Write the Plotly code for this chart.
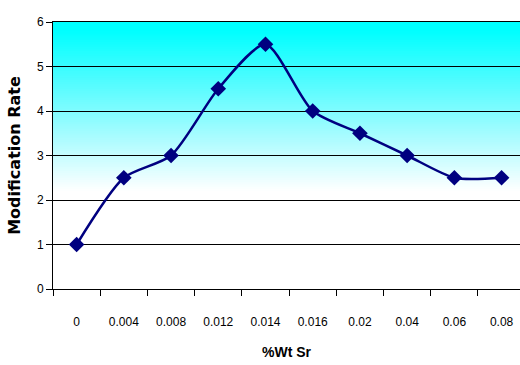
import plotly.graph_objects as go

# Sr additions (wt %) and the measured modification rate
sr_labels = ["0", "0.004", "0.008", "0.012", "0.014", "0.016", "0.02", "0.04", "0.06", "0.08"]
modification_rate = [1, 2.5, 3, 4.5, 5.5, 4, 3.5, 3, 2.5, 2.5]
y_ticks = [0, 1, 2, 3, 4, 5, 6]

positions = list(range(len(sr_labels)))

fig = go.Figure()

fig.add_trace(go.Scatter(
    x=positions,
    y=modification_rate,
    mode="lines+markers",
    line=dict(color="#000080", width=2.5, shape="spline", smoothing=0.7),
    marker=dict(symbol="diamond", size=12, color="#000080"),
    showlegend=False,
    cliponaxis=False,
))

# vertical cyan-to-white gradient behind the gridlines, built from thin bands
grad_top, grad_bottom = 5.8, 2.2
shapes = []
n = 80
lo_total, hi_total = 2.0, 6.0
step = (hi_total - lo_total) / n
for i in range(n):
    y0 = lo_total + i * step
    y1 = y0 + step * 1.6
    mid = y0 + step / 2
    t = (mid - grad_bottom) / (grad_top - grad_bottom)
    t = max(0.0, min(1.0, t))
    r = int(round(255 * (1 - t)))
    g = int(round(255 - 6 * (1 - t) * t * 2))
    b = 255
    shapes.append(dict(
        type="rect", xref="paper", x0=0, x1=1, yref="y", y0=y0, y1=min(y1, 6),
        fillcolor=f"rgb({r},{g},{b})", line=dict(width=0), layer="below",
    ))

fig.update_layout(
    width=520,
    height=365,
    margin=dict(l=53, r=0, t=22, b=76),
    paper_bgcolor="white",
    plot_bgcolor="white",
    shapes=shapes,
    font=dict(family="Liberation Sans, Arial, sans-serif", size=12, color="black"),
    xaxis=dict(
        range=[-0.5, 9.39],
        tickvals=positions,
        ticktext=sr_labels,
        ticks="",
        showgrid=False,
        zeroline=False,
        showline=True,
        linecolor="black",
        linewidth=1,
        mirror=True,
        ticklabelstandoff=22,
        tickfont=dict(size=12),
        minor=dict(
            tickvals=[p - 0.5 for p in positions] + [9.5],
            ticks="outside",
            ticklen=6,
            tickcolor="black",
            showgrid=False,
        ),
        title=dict(
            text="<b>%Wt Sr</b>",
            font=dict(family="Liberation Sans, Arial, sans-serif", size=14),
            standoff=18,
        ),
    ),
    yaxis=dict(
        range=[0, 6],
        tickvals=y_ticks,
        ticks="outside",
        ticklen=6,
        tickcolor="black",
        showgrid=True,
        gridcolor="black",
        gridwidth=1,
        zeroline=False,
        showline=True,
        linecolor="black",
        linewidth=1,
        tickfont=dict(size=12),
        title=dict(
            text="<b>Modification Rate</b>",
            font=dict(family="DejaVu Sans, Verdana, sans-serif", size=16),
            standoff=12,
        ),
    ),
)

fig.write_html("out.html")
